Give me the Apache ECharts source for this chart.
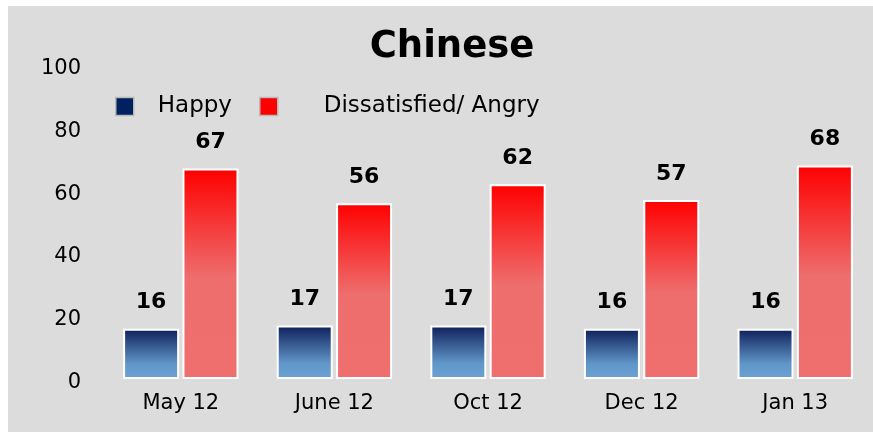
<!DOCTYPE html>
<html>
<head>
<meta charset="utf-8">
<script src="https://cdn.jsdelivr.net/npm/echarts@6/dist/echarts.min.js"></script>
<style>
html,body{margin:0;padding:0;background:#ffffff;}
#chart{width:873px;height:432px;}
</style>
</head>
<body>
<div id="chart"></div>
<script>
const titleText = 'Chinese';
const categories = ['May 12', 'June 12', 'Oct 12', 'Dec 12', 'Jan 13'];
const seriesNames = ['Happy', 'Dissatisfied/ Angry'];
const happyValues = [16, 17, 17, 16, 16];
const angryValues = [67, 56, 62, 57, 68];
const yTicks = [0, 20, 40, 60, 80, 100];

const FONT = 'DejaVu Sans';
const chart = echarts.init(document.getElementById('chart'), null, {renderer: 'canvas'});

const blueGrad = new echarts.graphic.LinearGradient(0, 0, 0, 1, [
  {offset: 0, color: '#0e1e5a'},
  {offset: 0.7, color: '#6096c8'},
  {offset: 1, color: '#6ca2d3'}
]);
const redGrad = new echarts.graphic.LinearGradient(0, 0, 0, 1, [
  {offset: 0, color: '#ff0000'},
  {offset: 0.52, color: '#ee6e6e'},
  {offset: 1, color: '#ef6e6e'}
]);

const labelStyle = {
  show: true, position: 'top', distance: 15,
  fontFamily: FONT, fontWeight: 'bold', fontSize: 22, color: '#000'
};

chart.setOption({
  animation: false,
  backgroundColor: '#ffffff',
  graphic: [{
    type: 'rect', left: 8, top: 6, z: -10, silent: true,
    shape: {width: 865, height: 426},
    style: {fill: '#dcdcdc'}
  }],
  title: {
    text: titleText, left: 447, top: 24, textAlign: 'center',
    textStyle: {fontFamily: FONT, fontWeight: 'bold', fontSize: 37, color: '#000'}
  },
  legend: [{
    data: [seriesNames[0]], left: 115, top: 95, padding: 0,
    itemWidth: 18, itemHeight: 18, icon: 'rect',
    itemStyle: {color: '#002060', borderColor: '#b8b8b8', borderWidth: 1.5},
    textStyle: {fontFamily: FONT, fontSize: 23, color: '#000', padding: [0, 0, 0, 19]}
  }, {
    data: [seriesNames[1]], left: 259, top: 95, padding: 0,
    itemWidth: 18, itemHeight: 18, icon: 'rect',
    itemStyle: {color: '#ff0000', borderColor: '#b8b8b8', borderWidth: 1.5},
    textStyle: {fontFamily: FONT, fontSize: 23, color: '#000', padding: [0, 0, 0, 41]}
  }],
  grid: {left: 104, right: 1, top: 65, bottom: 53, containLabel: false},
  xAxis: {
    type: 'category', data: categories,
    axisLine: {show: false}, axisTick: {show: false},
    axisLabel: {fontFamily: FONT, fontSize: 21, color: '#000', margin: 14}
  },
  yAxis: {
    type: 'value', min: yTicks[0], max: yTicks[yTicks.length - 1], interval: 20,
    axisLine: {show: false}, axisTick: {show: false}, splitLine: {show: false},
    axisLabel: {
      margin: 23, formatter: '{a|{value}}',
      rich: {a: {fontFamily: FONT, fontSize: 21, color: '#000', padding: [7, 0, 0, 0]}}
    }
  },
  series: [{
    name: seriesNames[0], type: 'bar', data: happyValues,
    barWidth: 56, barGap: '6%',
    itemStyle: {color: blueGrad, borderColor: '#ffffff', borderWidth: 2},
    label: labelStyle
  }, {
    name: seriesNames[1], type: 'bar', data: angryValues,
    barWidth: 56, barGap: '6%',
    itemStyle: {color: redGrad, borderColor: '#ffffff', borderWidth: 2},
    label: labelStyle
  }]
});
</script>
</body>
</html>
